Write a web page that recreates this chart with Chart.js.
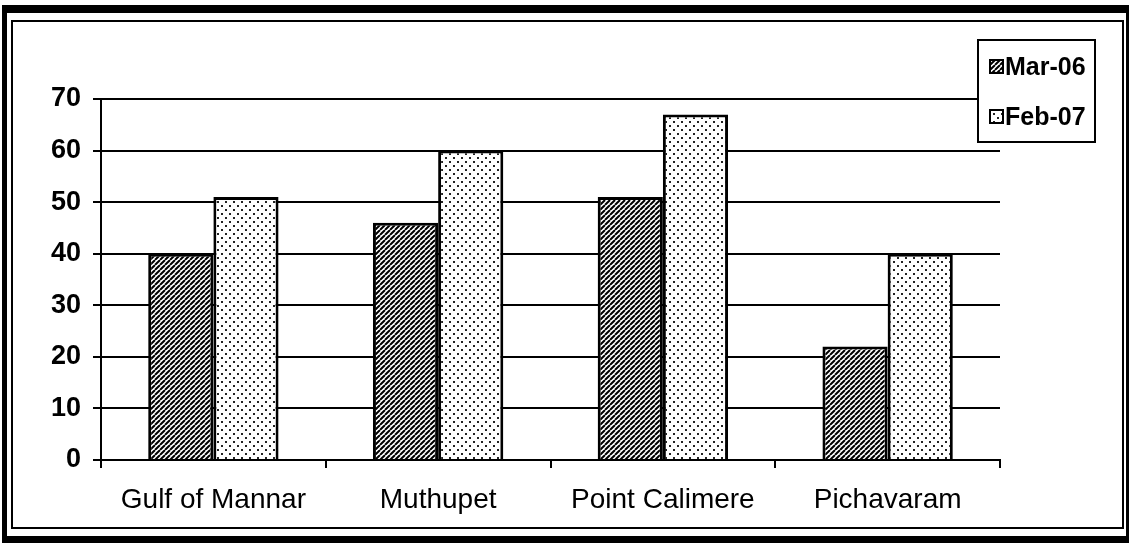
<!DOCTYPE html>
<html>
<head>
<meta charset="utf-8">
<script src="https://cdn.jsdelivr.net/npm/chart.js@4"></script>
<style>
  html, body { margin: 0; padding: 0; background: #fff; }
  #wrap { position: relative; width: 1129px; height: 543px; overflow: hidden; }
  #graph { position: absolute; left: 0; top: 0; }
  .frame { position: absolute; box-sizing: border-box; pointer-events: none; }
  #outer { left: 2px; top: 5px; width: 1127px; height: 538px;
           border-top: 8px solid #000; border-left: 5px solid #000;
           border-bottom: 7px solid #000; border-right: 3px solid #000; }
  #inner { left: 11px; top: 20px; width: 1113px; height: 509px; border: 2px solid #000; }
</style>
</head>
<body>
<div id="wrap">
  <canvas id="graph" width="1129" height="543"></canvas>
  <div class="frame" id="outer"></div>
  <div class="frame" id="inner"></div>
</div>
<script>
// データ
const LABELS = ['Gulf of Mannar', 'Muthupet', 'Point Calimere', 'Pichavaram'];
const MAR06 = [40, 46, 51, 22];
const FEB07 = [51, 60, 67, 40];
const SERIES_NAMES = ['Mar-06', 'Feb-07'];
const Y_TICKS = [0, 10, 20, 30, 40, 50, 60, 70];

const FONT = '"Liberation Sans", Arial, sans-serif';

// 斜線パターン
function hatchPattern() {
    const c = document.createElement('canvas');
    c.width = 5; c.height = 5;
    const g = c.getContext('2d');
    g.fillStyle = '#fff';
    g.fillRect(0, 0, 5, 5);
    g.strokeStyle = '#000';
    g.lineWidth = 2;
    g.beginPath();
    for (let k = -5; k <= 10; k += 5) {
        g.moveTo(k, 5);
        g.lineTo(k + 5, 0);
    }
    g.stroke();
    return g.createPattern(c, 'repeat');
}

// 点パターン
function dotPattern() {
    const c = document.createElement('canvas');
    c.width = 8; c.height = 8;
    const g = c.getContext('2d');
    g.fillStyle = '#fff';
    g.fillRect(0, 0, 8, 8);
    g.fillStyle = '#222';
    g.fillRect(1, 1, 2, 2);
    g.fillRect(5, 5, 2, 2);
    return g.createPattern(c, 'repeat');
}

const hatch = hatchPattern();
const dots = dotPattern();

// 凡例 (右上の箱)
const boxLegend = {
    id: 'boxLegend',
    afterDraw(chart) {
        const ctx = chart.ctx;
        const area = chart.chartArea;
        const x = area.right - 22, y = 40, w = 117, h = 102;
        ctx.save();
        ctx.fillStyle = '#fff';
        ctx.fillRect(x, y, w, h);
        ctx.strokeStyle = '#000';
        ctx.lineWidth = 2;
        ctx.strokeRect(x, y, w, h);
        ctx.font = 'bold 25px ' + FONT;
        ctx.textBaseline = 'middle';
        chart.data.datasets.forEach((ds, i) => {
            const cy = y + 27 + i * 50;
            ctx.fillStyle = ds.backgroundColor;
            ctx.fillRect(x + 12, cy - 7, 13, 13);
            ctx.lineWidth = 2;
            ctx.strokeRect(x + 12, cy - 7, 13, 13);
            ctx.fillStyle = '#000';
            ctx.fillText(ds.label, x + 27, cy + 1);
        });
        ctx.restore();
    }
};

const ctx = document.getElementById('graph').getContext('2d');

const myChart = new Chart(ctx, {
    type: 'bar',
    data: {
        labels: LABELS,
        datasets: [{
            label: SERIES_NAMES[0],
            data: MAR06,
            backgroundColor: hatch,
            borderColor: '#000',
            borderWidth: 3,
            borderSkipped: 'bottom'
        }, {
            label: SERIES_NAMES[1],
            data: FEB07,
            backgroundColor: dots,
            borderColor: '#000',
            borderWidth: 3,
            borderSkipped: 'bottom'
        }]
    },
    options: {
        responsive: false,
        animation: false,
        devicePixelRatio: 1,
        layout: { padding: { left: 0, top: 99, right: 129, bottom: 0 } },
        datasets: {
            bar: { categoryPercentage: 0.58, barPercentage: 1.0 }
        },
        plugins: {
            legend: { display: false },
            tooltip: { enabled: false }
        },
        scales: {
            x: {
                grid: {
                    offset: true,
                    drawOnChartArea: true,
                    color: c => c.index === LABELS.length ? '#000' : 'rgba(0,0,0,0)',
                    lineWidth: 2,
                    tickColor: '#000',
                    tickLength: 8
                },
                border: { color: '#000', width: 2 },
                ticks: {
                    color: '#000',
                    padding: 15,
                    font: { family: FONT, size: 28 }
                },
                afterFit: s => { s.height = 83; }
            },
            y: {
                min: 0,
                max: 70,
                afterBuildTicks: s => { s.ticks = Y_TICKS.map(v => ({ value: v })); },
                grid: {
                    color: '#000',
                    lineWidth: 2,
                    tickColor: '#000',
                    tickLength: 8
                },
                border: { color: '#000', width: 2 },
                ticks: {
                    color: '#000',
                    padding: 12,
                    font: { family: FONT, size: 27, weight: 'bold' }
                },
                afterFit: s => { s.width = 101; }
            }
        }
    },
    plugins: [boxLegend]
});
</script>
</body>
</html>
